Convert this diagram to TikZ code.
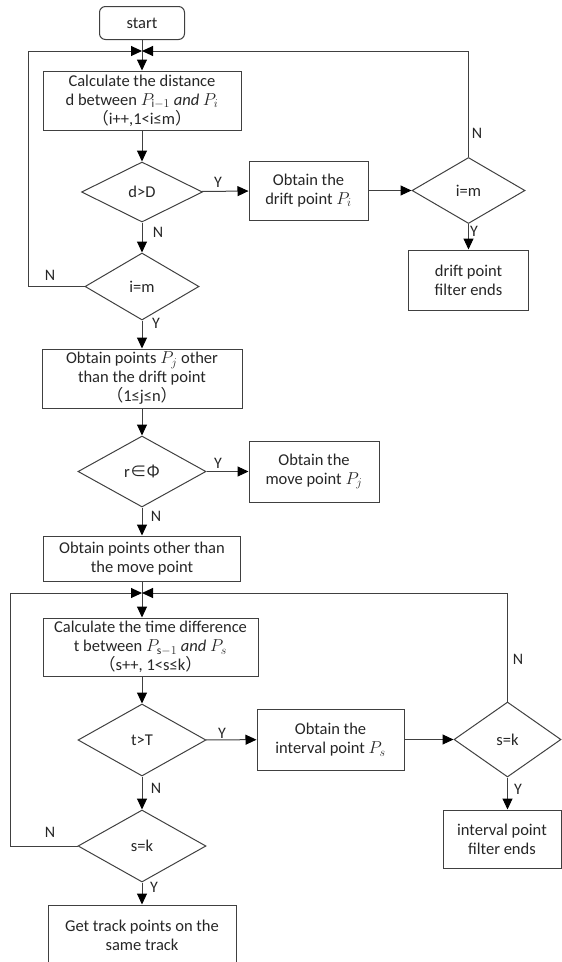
\documentclass[tikz,border=0pt]{standalone}
\usepackage{fontspec}
\setmainfont{Carlito}
\newfontfamily\cjk{Noto Sans CJK SC}
\usetikzlibrary{shapes.geometric,arrows.meta}
\newcommand{\lp}{{\cjk （}}
\newcommand{\rp}{{\cjk ）}}
\tikzstyle{box}=[draw=black!75, line width=1pt, align=center, inner sep=2pt, text=black!85, font=\fontsize{16.5}{19}\selectfont]
\tikzstyle{choice}=[draw=black!75, line width=1pt, diamond, aspect=2, inner sep=0pt, text=black!85, font=\fontsize{16.5}{19}\selectfont]
\tikzstyle{flow}=[draw=black!75, line width=1pt, -{Triangle[width=10pt,length=11pt,color=black]}]
\tikzstyle{yn}=[text=black!85, inner sep=0pt, font=\fontsize{16}{19}\selectfont]

\begin{document}
\begin{tikzpicture}[x=1pt, y=-1pt]
	\useasboundingbox (0,0) rectangle (562,962);
	\node[box, rounded corners=6pt, minimum width=85pt, minimum height=33pt] (start) at (142,23) {start};
	\coordinate (m1) at (142,51);
	\node[box, minimum width=198pt, minimum height=59pt] (calcd) at (142,100.5) {Calculate the distance\\d between $P_{\mathrm{i}-1}$ $\mathit{and}$ $P_i$\\\lp i++,1<i≤m\rp};
	\node[choice, minimum width=121pt, minimum height=60pt] (dD) at (142,192) {d>D};
	\node[box, minimum width=119pt, minimum height=59pt] (drift) at (308.5,190.5) {Obtain the\\drift point $P_i$};
	\node[choice, minimum width=113pt, minimum height=66pt] (im1) at (468.5,190.5) {i=m};
	\node[box, minimum width=120pt, minimum height=60pt] (dend) at (468.5,280) {drift point\\filter ends};
	\node[choice, minimum width=114pt, minimum height=67pt] (im2) at (142,286.5) {i=m};
	\node[box, minimum width=200pt, minimum height=59pt] (others) at (142,378.5) {Obtain points $P_j$ other\\than the drift point\\\lp 1≤j≤n\rp};
	\node[choice, minimum width=128pt, minimum height=71pt] (rphi) at (142,471.5) {r{\cjk ∈Φ}};
	\node[box, minimum width=130pt, minimum height=61pt] (move) at (314,471.5) {Obtain the\\move point $P_j$};
	\node[box, minimum width=197pt, minimum height=45pt] (notmove) at (142,558.5) {Obtain points other than\\the move point};
	\coordinate (m2) at (142,593);
	\node[box, minimum width=215pt, minimum height=58pt] (calct) at (150.5,647) {Calculate the time difference\\t between $P_{\mathrm{s}-1}$ $\mathit{and}$ $P_s$\\\lp s++, 1<s≤k\rp};
	\node[choice, minimum width=128pt, minimum height=72pt] (tT) at (142,740) {t>T};
	\node[box, minimum width=147pt, minimum height=61pt] (interval) at (330.5,739.5) {Obtain the\\interval point $P_s$};
	\node[choice, minimum width=107pt, minimum height=75pt] (sk1) at (507.5,739.5) {s=k};
	\node[box, minimum width=118pt, minimum height=58pt] (iend) at (502,839) {interval point\\filter ends};
	\node[choice, minimum width=128pt, minimum height=72pt] (sk2) at (142,846) {s=k};
	\node[box, minimum width=188pt, minimum height=60pt] (track) at (142,935) {Get track points on the\\same track};
	\draw[flow] (start) -- (calcd);
	\draw[flow] (calcd) -- (dD);
	\draw[flow] (dD) -- (drift);
	\draw[flow] (drift) -- (im1);
	\draw[flow] (im1) -- (dend);
	\draw[flow] (im1.north) |- (m1);
	\draw[flow] (dD) -- (im2);
	\draw[flow] (im2.west) -- ++(-56,0) |- (m1);
	\draw[flow] (im2) -- (others);
	\draw[flow] (others) -- (rphi);
	\draw[flow] (rphi) -- (move);
	\draw[flow] (rphi) -- (notmove);
	\draw[flow] (notmove.south) -- (notmove.south |- calct.north);
	\draw[flow] (calct.south -| tT) -- (tT);
	\draw[flow] (tT) -- (interval);
	\draw[flow] (interval) -- (sk1);
	\draw[flow] (sk1) -- (sk1 |- iend.north);
	\draw[flow] (sk1.north) |- (m2);
	\draw[flow] (tT) -- (sk2);
	\draw[flow] (sk2.west) -- ++(-67,0) |- (m2);
	\draw[flow] (sk2) -- (track);
	\node[yn] (y1) at (218,182) {Y};
	\node[yn] (n1) at (158,232) {N};
	\node[yn] (y2) at (474,231) {Y};
	\node[yn] (n2) at (477,133) {N};
	\node[yn] (n3) at (50,275) {N};
	\node[yn] (y3) at (156,323) {Y};
	\node[yn] (y4) at (218,463) {Y};
	\node[yn] (n4) at (156,516) {N};
	\node[yn] (y5) at (222,733) {Y};
	\node[yn] (n5) at (156,788) {N};
	\node[yn] (y6) at (518,789) {Y};
	\node[yn] (n6) at (518,659) {N};
	\node[yn] (n7) at (50,832) {N};
	\node[yn] (y7) at (154,887) {Y};
\end{tikzpicture}
\end{document}
